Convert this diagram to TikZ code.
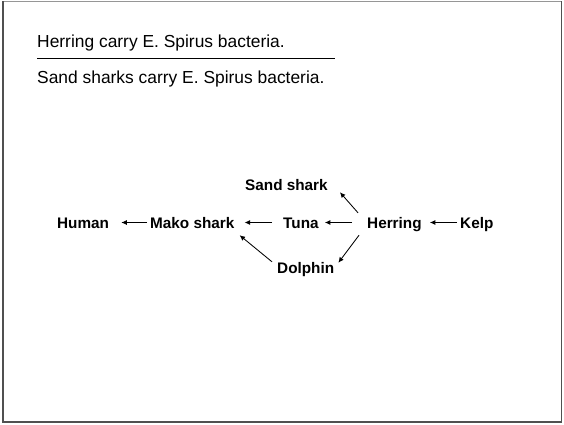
\documentclass[tikz,border=0pt]{standalone}
\usepackage{fontspec}
\setmainfont{Liberation Sans}
\usetikzlibrary{arrows.meta}
\definecolor{framegray}{RGB}{80,80,80}
\definecolor{toplight}{RGB}{150,150,150}
\begin{document}
\begin{tikzpicture}[x=1pt,y=-1pt,
  organism/.style={font=\fontsize{15.3}{18}\selectfont\bfseries, inner sep=0pt, text height=11pt, text depth=0pt, anchor=base west},
  claim/.style={font=\fontsize{17.4}{20}\selectfont, inner sep=0pt, anchor=base west},
  feeds/.style={line width=0.85pt, -{Latex[length=5.5pt,width=5pt]}}]
\useasboundingbox (0,0) rectangle (564,424);
\coordinate (fTL) at (2.8,1.2);
\coordinate (fTR) at (561.6,1.2);
\coordinate (fBL) at (2.8,421.8);
\coordinate (fBR) at (561.6,421.8);
\draw[toplight, line width=1.2pt] (fTL) -- (fTR);
\draw[framegray, line width=1.6pt] (fTL) -- (fBL) -- (fBR) -- (fTR);
\node[claim] (premise) at (37,47.7) {Herring carry E. Spirus bacteria.};
\node[claim] (concl) at (37,83.5) {Sand sharks carry E. Spirus bacteria.};
\coordinate (ruleL) at (37,58.5);
\coordinate (ruleR) at (335,58.5);
\draw[line width=1.8pt] (ruleL) -- (ruleR);
\node[organism] (human) at (57,228) {Human};
\node[organism] (mako) at (150,228) {Mako shark};
\node[organism] (tuna) at (283,228) {Tuna};
\node[organism] (herring) at (367,228) {Herring};
\node[organism] (kelp) at (460,228) {Kelp};
\node[organism] (sand) at (245,190) {Sand shark};
\node[organism] (dolphin) at (277,273) {Dolphin};
\draw[feeds, shorten <=3pt, shorten >=12pt] (mako.west) -- (human.east);
\draw[feeds, shorten <=11pt, shorten >=10pt] (tuna.west) -- (mako.east);
\draw[feeds, shorten <=15pt, shorten >=6pt] (herring.west) -- (tuna.east);
\draw[feeds, shorten <=3pt, shorten >=8pt] (kelp.west) -- (herring.east);
\draw[feeds] ([shift={(-9,-4)}]herring.north west) -- ([shift={(12,2)}]sand.south east);
\draw[feeds] ([shift={(-8,7)}]herring.south west) -- ([shift={(4,1)}]dolphin.north east);
\draw[feeds] ([shift={(-5,0)}]dolphin.north west) -- ([shift={(5,7)}]mako.south east);
\end{tikzpicture}
\end{document}
